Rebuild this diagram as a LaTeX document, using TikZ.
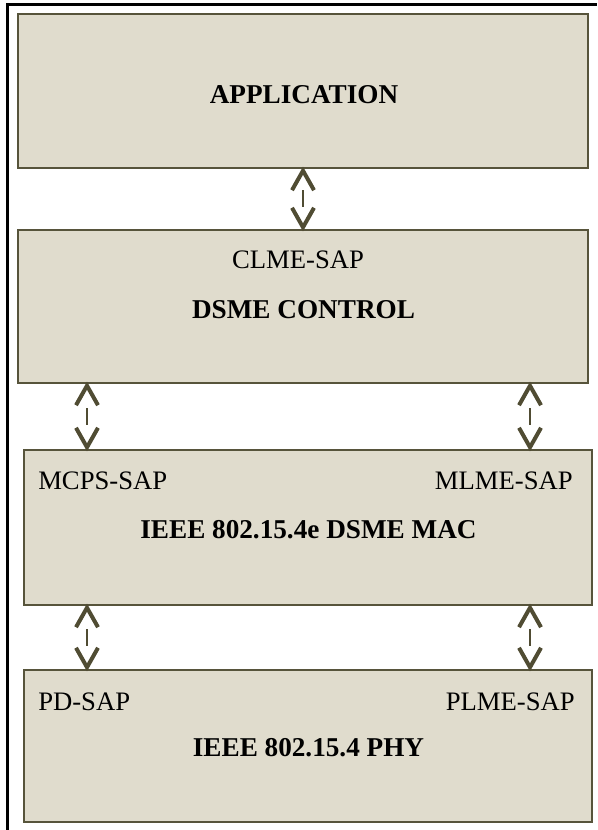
\documentclass[tikz,border=0pt]{standalone}
\usepackage{fontspec}
\setmainfont{Liberation Serif}
\usetikzlibrary{calc}
\definecolor{layerfill}{HTML}{E0DCCD}
\definecolor{layeredge}{HTML}{57543B}
\definecolor{sapink}{HTML}{504C33}
\tikzset{
  layer/.style={draw=layeredge, fill=layerfill, line width=1.8pt, inner sep=0pt},
  lbl/.style={font=\fontsize{20}{24}\selectfont, inner sep=0pt},
  title/.style={lbl, font=\fontsize{20.4}{24}\selectfont\bfseries},
  sapline/.style={draw=sapink, line width=3pt, line cap=butt, line join=miter},
  sapdash/.style={draw=sapink, line width=1.8pt},
}
% double-headed service access point link between two points
\newcommand\sapjoin[2]{%
  \draw[sapline] ($(#1)+(-11,21)$) -- ($(#1)+(0,1.5)$) -- ($(#1)+(11,21)$);
  \draw[sapline] ($(#2)+(-11,-21)$) -- ($(#2)+(0,-1.5)$) -- ($(#2)+(11,-21)$);
  \draw[sapdash] ($(#1)!0.5!(#2)+(0,-8.5)$) -- ($(#1)!0.5!(#2)+(0,8.5)$);
}
\begin{document}
\begin{tikzpicture}[x=0.75pt,y=-0.75pt]
\useasboundingbox (0,0) rectangle (597,830);
% outer frame
\draw[black, line width=1.6pt] (7.5,830) -- (7.5,4.5) -- (597,4.5);

% protocol layers
\node[layer, minimum width=570*0.75pt, minimum height=154*0.75pt] (b1) at (303,91) {};
\node[layer, minimum width=570*0.75pt, minimum height=153*0.75pt] (b2) at (303,306.5) {};
\node[layer, minimum width=568*0.75pt, minimum height=155*0.75pt] (b3) at (308,527.5) {};
\node[layer, minimum width=568*0.75pt, minimum height=152*0.75pt] (b4) at (308,746) {};

% layer texts
\node[title] (t1) at (304,95) {APPLICATION};
\node[lbl]   (s2) at (298,260) {CLME-SAP};
\node[title] (t2) at (303.5,310) {DSME CONTROL};
\node[lbl, anchor=west] (s3a) at (38,481) {MCPS-SAP};
\node[lbl, anchor=east] (s3b) at (573,481) {MLME-SAP};
\node[title] (t3) at (308.5,530) {IEEE 802.15.4e DSME MAC};
\node[lbl, anchor=west] (s4a) at (38,702) {PD-SAP};
\node[lbl, anchor=east] (s4b) at (575,702) {PLME-SAP};
\node[title] (t4) at (308.5,748) {IEEE 802.15.4 PHY};

% link columns
\coordinate (cl) at (87,0);
\coordinate (cr) at (530,0);
\coordinate (u1) at (b1.south);
\coordinate (l1) at (b2.north);
\coordinate (u2) at (b2.south -| cl);
\coordinate (l2) at (b3.north -| cl);
\coordinate (u3) at (b2.south -| cr);
\coordinate (l3) at (b3.north -| cr);
\coordinate (u4) at (b3.south -| cl);
\coordinate (l4) at (b4.north -| cl);
\coordinate (u5) at (b3.south -| cr);
\coordinate (l5) at (b4.north -| cr);

\sapjoin{u1}{l1}
\sapjoin{u2}{l2}
\sapjoin{u3}{l3}
\sapjoin{u4}{l4}
\sapjoin{u5}{l5}
\end{tikzpicture}
\end{document}
